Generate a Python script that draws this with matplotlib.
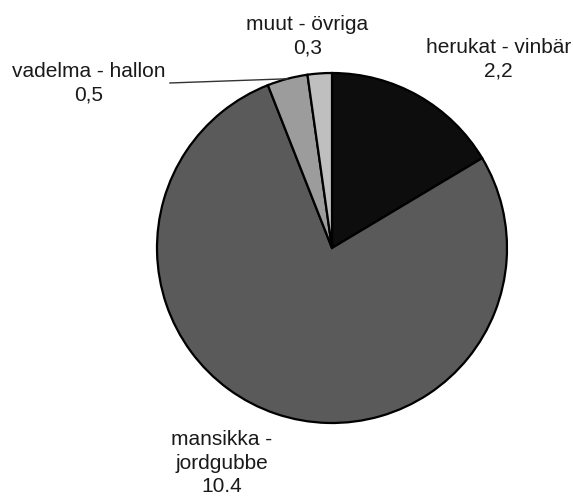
import matplotlib.pyplot as plt
import numpy as np

plt.rcParams['font.family'] = ['Liberation Sans', 'DejaVu Sans']

# Data (clockwise from 12 o'clock)
names = ["herukat - vinbär", "mansikka -\njordgubbe", "vadelma - hallon", "muut - övriga"]
value_labels = ["2,2", "10.4", "0,5", "0,3"]
values = [2.2, 10.4, 0.5, 0.3]
colors = ["#0d0d0d", "#5a5a5a", "#9c9c9c", "#bfbfbf"]

# label placement (axes data coords, pie radius = 1)
label_pos = [(0.95, 1.08), (-0.63, -1.23), (-1.39, 0.94), (-0.14, 1.21)]

fig = plt.figure(figsize=(5.73, 5.0), dpi=100)
ax = fig.add_axes([0, 0, 1, 1])

wedges, _ = ax.pie(values, colors=colors, startangle=90, counterclock=False,
                   radius=1.0, center=(0, 0),
                   wedgeprops=dict(edgecolor="black", linewidth=1.6))

for i, w in enumerate(wedges):
    x, y = label_pos[i]
    ax.text(x, y, names[i] + "\n" + value_labels[i], ha="center", va="center",
            multialignment="center", fontsize=15, linespacing=1.3, color="#1a1a1a")

# leader line for vadelma
w = wedges[2]
ang = np.deg2rad((w.theta1 + w.theta2) / 2)
ax.plot([-0.926, np.cos(ang)], [0.943, np.sin(ang)], color="#333333", lw=1.0)

ax.set_xlim(-332 / 175, (573 - 332) / 175)
ax.set_ylim((248 - 500) / 175, 248 / 175)
ax.set_aspect("auto")
ax.axis("off")

fig.savefig("out.png", dpi=100)
